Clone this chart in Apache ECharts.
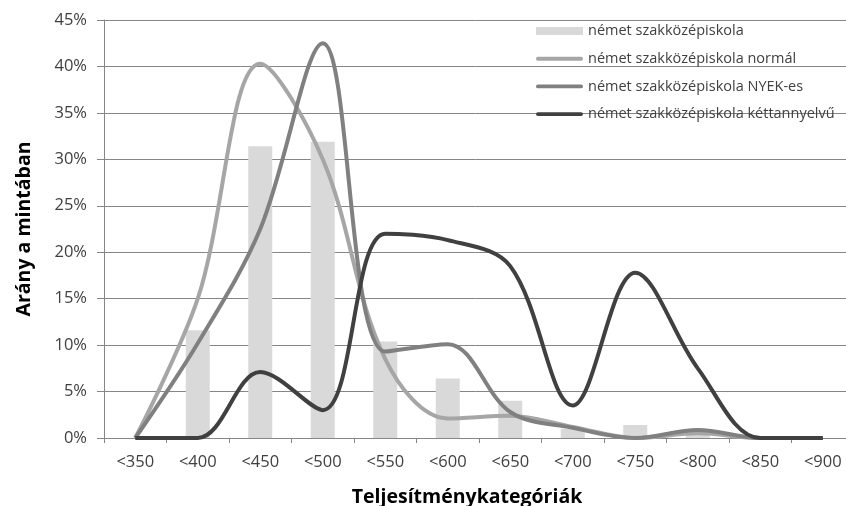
<!DOCTYPE html>
<html>
<head>
<meta charset="utf-8">
<script src="https://cdn.jsdelivr.net/npm/echarts@6/dist/echarts.min.js"></script>
<style>
html,body{margin:0;padding:0;background:#fff;}
#chart{width:846px;height:506px;}
</style>
</head>
<body>
<div id="chart"></div>
<script>
var categories = ['<350','<400','<450','<500','<550','<600','<650','<700','<750','<800','<850','<900'];
var barName = 'német szakközépiskola';
var barValues = [0, 11.6, 31.4, 31.9, 10.4, 6.4, 4.0, 1.0, 1.4, 0.5, 0, 0];
var normalName = 'német szakközépiskola normál';
var normalValues = [0, 15, 40.3, 30, 8.5, 2.1, 2.4, 1.2, 0, 0.5, 0, 0];
var nyekName = 'német szakközépiskola NYEK-es';
var nyekValues = [0, 10.2, 22.5, 42.5, 9.3, 10.1, 2.8, 1.1, 0, 0.85, 0, 0];
var ketName = 'német szakközépiskola kéttannyelvű';
var ketValues = [0, 0, 7.1, 3.0, 22.0, 21.3, 18.5, 3.5, 17.8, 7.5, 0, 0];
var yTicks = [0, 5, 10, 15, 20, 25, 30, 35, 40, 45];
var xTitle = 'Teljesítménykategóriák';
var yTitle = 'Arány a mintában';

var font = 'Open Sans';
var lineIcon = 'path://M2,0 L46,0 A2,2 0 0 1 46,4 L2,4 A2,2 0 0 1 2,0 Z';
var chart = echarts.init(document.getElementById('chart'), null, {renderer: 'canvas'});
function lineSeries(name, data, color) {
  return {
    name: name, type: 'line', data: data, smooth: 0.35,
    symbol: 'none', lineStyle: {color: color, width: 4}, itemStyle: {color: color},
    z: 3
  };
}
chart.setOption({
  animation: false,
  backgroundColor: '#ffffff',
  grid: {left: 104, top: 20, right: -8, bottom: 68, containLabel: false, outerBoundsMode: 'none'},
  legend: {
    orient: 'vertical', left: 531, top: 18,
    itemWidth: 47, itemHeight: 8, itemGap: 11.7, symbolKeepAspect: true,
    textStyle: {fontFamily: font, fontSize: 14.5, color: '#404040', lineHeight: 16},
    data: [
      {name: barName, icon: 'rect'},
      {name: normalName, icon: lineIcon},
      {name: nyekName, icon: lineIcon},
      {name: ketName, icon: lineIcon}
    ]
  },
  graphic: [{
    type: 'text', x: 467, y: 497,
    style: {text: xTitle, fontFamily: font, fontSize: 19.5, fontWeight: 'bold', fill: '#000',
            textAlign: 'center', textVerticalAlign: 'middle'}
  }],
  xAxis: {
    type: 'category', data: categories, boundaryGap: true,
    axisLine: {lineStyle: {color: '#868686', width: 1}},
    axisTick: {show: true, length: 5, lineStyle: {color: '#868686'}},
    axisLabel: {fontFamily: font, fontSize: 16.5, color: '#404040', margin: 16, interval: 0}
  },
  yAxis: {
    type: 'value', min: 0, max: 45, interval: 5,
    name: yTitle, nameLocation: 'middle', nameGap: 70, nameRotate: 90,
    nameTextStyle: {fontFamily: font, fontSize: 19.5, fontWeight: 'bold', color: '#000'},
    axisLine: {show: true, lineStyle: {color: '#868686', width: 1}},
    axisTick: {show: true, length: 7, lineStyle: {color: '#868686'}},
    splitLine: {show: true, lineStyle: {color: '#868686', width: 1}},
    axisLabel: {
      fontFamily: font, fontSize: 16.5, color: '#404040', margin: 17,
      formatter: function (v) { return yTicks.indexOf(v) >= 0 ? v + '%' : ''; }
    }
  },
  series: [
    {name: barName, type: 'bar', data: barValues, barWidth: 24,
     itemStyle: {color: '#d9d9d9'}, z: 2},
    lineSeries(normalName, normalValues, '#a6a6a6'),
    lineSeries(nyekName, nyekValues, '#808080'),
    lineSeries(ketName, ketValues, '#404040')
  ]
});
</script>
</body>
</html>
